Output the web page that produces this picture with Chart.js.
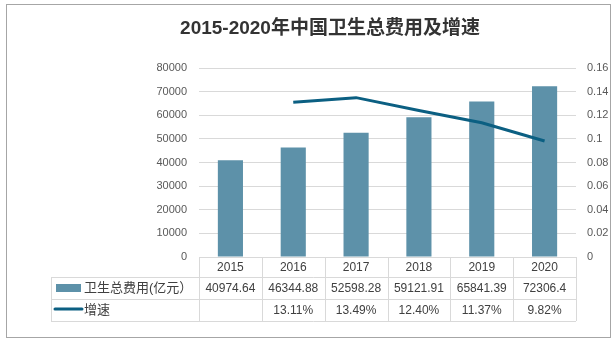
<!DOCTYPE html>
<html>
<head>
<meta charset="utf-8">
<script src="https://cdn.jsdelivr.net/npm/chart.js@4.4.0/dist/chart.umd.min.js"></script>
<style>
    html, body { margin: 0; padding: 0; background: #fff; }
    canvas { display: block; }
</style>
</head>
<body>
<canvas id="chart" width="616" height="343"></canvas>
<script>
// Data
const years = ['2015', '2016', '2017', '2018', '2019', '2020'];
const spending = [40974.64, 46344.88, 52598.28, 59121.91, 65841.39, 72306.4];
const growth = [null, 0.1311, 0.1349, 0.1240, 0.1137, 0.0982];
const spendingLabels = ['40974.64', '46344.88', '52598.28', '59121.91', '65841.39', '72306.4'];
const growthLabels = ['', '13.11%', '13.49%', '12.40%', '11.37%', '9.82%'];

const barColor = '#5d91a9';
const lineColor = '#0b5f82';
const gridColor = '#d9d9d9';
const textColor = '#404040';
const FONT = '"Liberation Sans", "Noto Sans CJK SC", sans-serif';

// Draws the frame, title and the data table under the plot
const tablePlugin = {
    id: 'dataTable',
    beforeDraw(chart) {
        const ctx = chart.ctx;
        ctx.save();
        ctx.fillStyle = '#fff';
        ctx.fillRect(0, 0, chart.width, chart.height);
        ctx.strokeStyle = '#a6a6a6';
        ctx.lineWidth = 1;
        ctx.strokeRect(6.5, 4.5, 604, 333);

        ctx.fillStyle = '#333333';
        ctx.font = 'bold 19px ' + FONT;
        ctx.textAlign = 'center';
        ctx.textBaseline = 'middle';
        ctx.fillText('2015-2020年中国卫生总费用及增速', 330, 29);
        ctx.restore();
    },
    afterDraw(chart) {
        const { ctx, chartArea } = chart;
        const x = chart.scales.x;
        const rows = [chartArea.bottom, 277, 299, 321];
        const tableLeft = 51;
        const colW = (chartArea.right - chartArea.left) / years.length;

        ctx.save();
        ctx.strokeStyle = gridColor;
        ctx.lineWidth = 1;
        ctx.beginPath();
        // horizontal lines
        ctx.moveTo(chartArea.left, rows[0] + 0.5);
        ctx.lineTo(chartArea.right, rows[0] + 0.5);
        for (let i = 1; i < rows.length; i++) {
            ctx.moveTo(tableLeft, rows[i] + 0.5);
            ctx.lineTo(chartArea.right, rows[i] + 0.5);
        }
        // vertical lines
        for (let i = 0; i <= years.length; i++) {
            const cx = Math.round(chartArea.left + i * colW) + 0.5;
            ctx.moveTo(cx, rows[0]);
            ctx.lineTo(cx, rows[3]);
        }
        ctx.moveTo(tableLeft + 0.5, rows[1]);
        ctx.lineTo(tableLeft + 0.5, rows[3]);
        ctx.stroke();

        // cell texts
        ctx.fillStyle = textColor;
        ctx.font = '12px ' + FONT;
        ctx.textAlign = 'center';
        ctx.textBaseline = 'middle';
        years.forEach((yr, i) => {
            const cx = x.getPixelForValue(i);
            ctx.fillText(yr, cx, (rows[0] + rows[1]) / 2 + 1);
            ctx.fillText(spendingLabels[i], cx, (rows[1] + rows[2]) / 2 + 1);
            ctx.fillText(growthLabels[i], cx, (rows[2] + rows[3]) / 2 + 1);
        });

        // legend keys
        ctx.fillStyle = barColor;
        ctx.fillRect(56, 284, 25, 8);
        ctx.strokeStyle = lineColor;
        ctx.lineWidth = 3;
        ctx.lineCap = 'round';
        ctx.beginPath();
        ctx.moveTo(55, 309);
        ctx.lineTo(82, 309);
        ctx.stroke();

        ctx.fillStyle = textColor;
        ctx.font = '13px ' + FONT;
        ctx.textAlign = 'left';
        ctx.fillText('卫生总费用(亿元）', 84, 288);
        ctx.fillText('增速', 84, 310);
        ctx.restore();
    }
};

new Chart(document.getElementById('chart'), {
    type: 'bar',
    data: {
        labels: years,
        datasets: [
            {
                type: 'line',
                label: '增速',
                data: growth,
                yAxisID: 'y1',
                borderColor: lineColor,
                borderWidth: 3,
                pointRadius: 0,
                tension: 0,
                order: 0
            },
            {
                type: 'bar',
                label: '卫生总费用(亿元）',
                data: spending,
                yAxisID: 'y',
                backgroundColor: barColor,
                barPercentage: 0.4,
                categoryPercentage: 1.0,
                order: 1
            }
        ]
    },
    options: {
        responsive: false,
        animation: false,
        devicePixelRatio: 1,
        layout: { padding: { top: 68, left: 0, right: 0, bottom: 0 } },
        plugins: {
            legend: { display: false },
            title: { display: false },
            tooltip: { enabled: false }
        },
        scales: {
            x: {
                offset: true,
                grid: { display: false },
                border: { display: false },
                ticks: { display: false },
                afterFit: s => { s.height = 86; }
            },
            y: {
                position: 'left',
                min: 0,
                max: 80000,
                ticks: {
                    stepSize: 10000,
                    color: '#595959',
                    font: { family: FONT, size: 11 },
                    padding: 12,
                    callback: v => String(v)
                },
                grid: { color: gridColor, drawTicks: false },
                border: { display: false },
                afterFit: s => { s.width = 199; }
            },
            y1: {
                position: 'right',
                min: 0,
                max: 0.16,
                ticks: {
                    stepSize: 0.02,
                    color: '#595959',
                    font: { family: FONT, size: 11 },
                    padding: 11,
                    callback: v => String(Number(v.toFixed(2)))
                },
                grid: { display: false, drawTicks: false },
                border: { display: false },
                afterFit: s => { s.width = 40; }
            }
        }
    },
    plugins: [tablePlugin]
});
</script>
</body>
</html>
